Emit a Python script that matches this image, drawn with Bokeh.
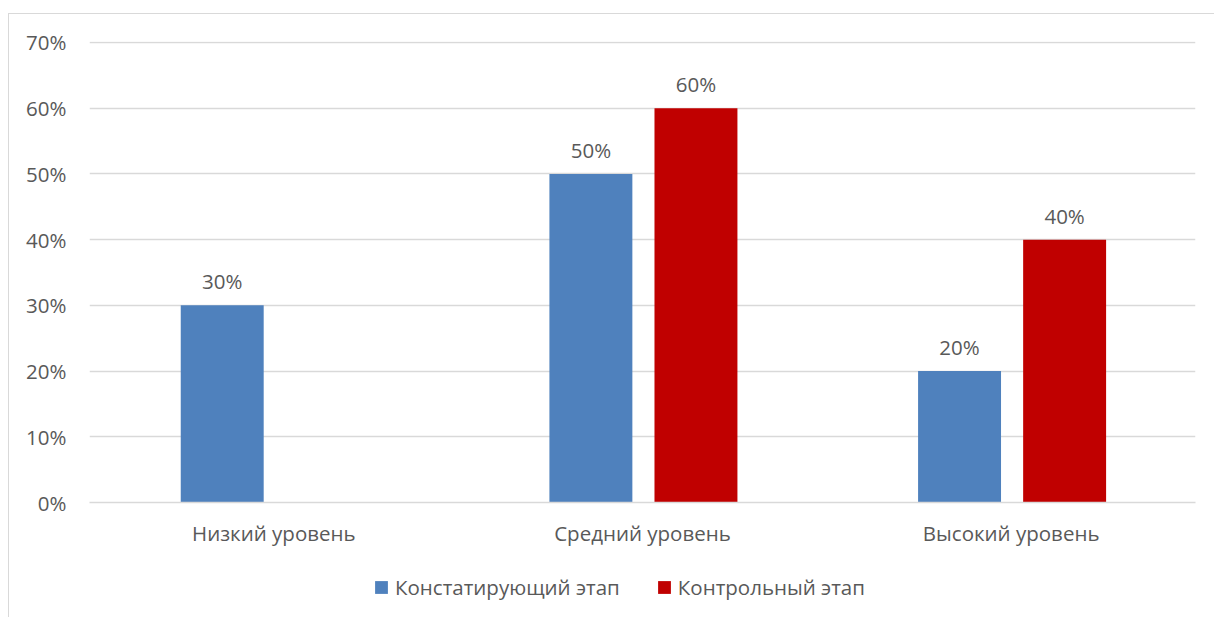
from bokeh.plotting import figure
from bokeh.layouts import column
from bokeh.models import (ColumnDataSource, FactorRange, Range1d, Legend, LegendItem,
                          NumeralTickFormatter, FixedTicker)
from bokeh.transform import dodge
from bokeh.core.properties import value
from bokeh.embed import file_html
from bokeh.resources import INLINE

categories = ["Низкий уровень", "Средний уровень", "Высокий уровень"]
series_names = ["Констатирующий этап", "Контрольный этап"]
ascertaining = [0.30, 0.50, 0.20]
control = [float("nan"), 0.60, 0.40]
y_ticks = [0, 0.1, 0.2, 0.3, 0.4, 0.5, 0.6, 0.7]

BLUE = "#4F81BD"
RED = "#C00000"
TXT = "#595959"
GRID = "#D9D9D9"
FONT = "Open Sans"
FS = "20.5px"

p = figure(x_range=FactorRange(*categories, range_padding=0), y_range=Range1d(0, 0.7015),
           width=1205, height=548, output_backend="svg", toolbar_location=None,
           min_border_left=80, min_border_right=19, min_border_top=27, min_border_bottom=60)
p.outline_line_color = None
p.background_fill_color = "white"
p.border_fill_color = "white"

src = ColumnDataSource(dict(cat=categories, a=ascertaining, c=control))
r1 = p.vbar(x=dodge("cat", -0.14, range=p.x_range), top="a", width=0.225, source=src,
            fill_color=BLUE, line_color=None)
r2 = p.vbar(x=dodge("cat", 0.145, range=p.x_range), top="c", width=0.225, source=src,
            fill_color=RED, line_color=None)

def label_source(vals):
    cats, ys, txt = [], [], []
    for c, v in zip(categories, vals):
        if v == v:
            cats.append(c); ys.append(v); txt.append(f"{round(v * 100)}%")
    return ColumnDataSource(dict(cat=cats, y=ys, t=txt))

for vals, off in ((ascertaining, -0.14), (control, 0.145)):
    p.text(x=dodge("cat", off, range=p.x_range), y="y", text="t", source=label_source(vals),
           text_align="center", text_baseline="alphabetic", y_offset=-24,
           text_font=value(FONT), text_font_size=FS, text_color=TXT)

p.yaxis.ticker = FixedTicker(ticks=y_ticks)
p.yaxis.formatter = NumeralTickFormatter(format="0%")
p.yaxis.axis_line_color = None
p.yaxis.major_tick_line_color = None
p.yaxis.minor_tick_line_color = None
p.yaxis.major_label_standoff = 17
p.yaxis.major_label_text_font = FONT
p.yaxis.major_label_text_font_size = FS
p.yaxis.major_label_text_color = TXT

p.xaxis.axis_line_color = GRID
p.xaxis.axis_line_width = 1.5
p.xaxis.major_tick_line_color = None
p.xaxis.minor_tick_line_color = None
p.xaxis.major_label_standoff = 10
p.xaxis.major_label_text_font = FONT
p.xaxis.major_label_text_font_size = FS
p.xaxis.major_label_text_color = TXT

p.xgrid.grid_line_color = None
p.ygrid.grid_line_color = GRID
p.ygrid.grid_line_width = 1.5
p.ygrid.ticker = FixedTicker(ticks=y_ticks)

# legend strip below the chart (its key renderers share the data but lie outside its view)
leg = figure(width=1205, height=55, x_range=FactorRange(*categories), y_range=Range1d(5, 6),
             output_backend="svg", toolbar_location=None, min_border=0,
             x_axis_location=None, y_axis_location=None)
leg.outline_line_color = None
leg.grid.visible = False
leg.border_fill_color = "white"
leg.background_fill_color = "white"
k1 = leg.vbar(x="cat", top="a", width=0.2, source=src, fill_color=BLUE, line_color=None)
k2 = leg.vbar(x="cat", top="c", width=0.2, source=src, fill_color=RED, line_color=None)

legend = Legend(items=[LegendItem(label=series_names[0], renderers=[k1], index=1),
                       LegendItem(label=series_names[1], renderers=[k2], index=1)],
                orientation="horizontal", location=(284, 16),
                glyph_width=16, glyph_height=16, label_standoff=6, spacing=36,
                label_text_font=FONT, label_text_font_size=FS, label_text_color=TXT,
                border_line_color=None, background_fill_alpha=0, padding=0, margin=0)
leg.add_layout(legend, "center")

layout = column(p, leg, spacing=0)
layout.styles = {"margin-left": "8px", "margin-top": "13px",
                 "border-left": "1px solid #D9D9D9", "border-top": "1px solid #D9D9D9"}

open("out.html", "w").write(file_html(layout, INLINE))
